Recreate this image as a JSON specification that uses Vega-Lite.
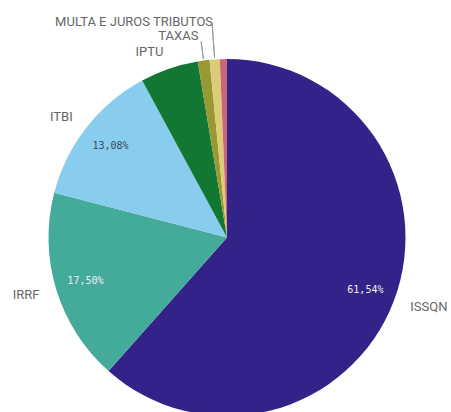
{
  "$schema": "https://vega.github.io/schema/vega-lite/v6.json",
  "width": 454,
  "height": 475,
  "autosize": {"type": "none"},
  "padding": 0,
  "background": "white",
  "config": {"view": {"stroke": null}},
  "data": {
    "values": [
      {"idx": 1, "cat": "ISSQN", "value": 61.54, "pct": "61,54%"},
      {"idx": 2, "cat": "IRRF", "value": 17.50, "pct": "17,50%"},
      {"idx": 3, "cat": "ITBI", "value": 13.08, "pct": "13,08%"},
      {"idx": 4, "cat": "IPTU", "value": 5.26, "pct": "5,26%"},
      {"idx": 5, "cat": "TAXAS", "value": 1.06, "pct": "1,06%"},
      {"idx": 6, "cat": "MULTA E JUROS TRIBUTOS", "value": 0.92, "pct": "0,92%"},
      {"idx": 7, "cat": "OUTROS", "value": 0.64, "pct": "0,64%"}
    ]
  },
  "layer": [
    {
      "mark": {"type": "arc", "radius": 178.5},
      "encoding": {
        "theta": {"field": "value", "type": "quantitative", "stack": true},
        "order": {"field": "idx", "type": "quantitative", "sort": "ascending"},
        "color": {
          "field": "cat",
          "type": "nominal",
          "scale": {
            "domain": ["ISSQN", "IRRF", "ITBI", "IPTU", "TAXAS", "MULTA E JUROS TRIBUTOS", "OUTROS"],
            "range": ["#332288", "#44AA99", "#88CCEE", "#117733", "#999933", "#DDCC77", "#CC6677"]
          },
          "legend": null
        }
      }
    },
    {
      "mark": {"type": "text", "radius": 148, "font": "DejaVu Sans Mono", "fontSize": 10},
      "encoding": {
        "theta": {"field": "value", "type": "quantitative", "stack": true},
        "order": {"field": "idx", "type": "quantitative", "sort": "ascending"},
        "text": {"field": "pct"},
        "opacity": {"condition": {"test": "datum.idx <= 3", "value": 1}, "value": 0},
        "color": {"condition": {"test": "datum.cat === 'ITBI'", "value": "#3b4a5c"}, "value": "#f0f0f5"}
      }
    },
    {
      "mark": {"type": "text", "radius": 196, "align": "left", "font": "Roboto", "fontSize": 13, "color": "#666666"},
      "encoding": {
        "theta": {"field": "value", "type": "quantitative", "stack": true},
        "order": {"field": "idx", "type": "quantitative", "sort": "ascending"},
        "text": {"field": "cat"},
        "opacity": {"condition": {"test": "datum.cat === 'ISSQN'", "value": 1}, "value": 0}
      }
    },
    {
      "mark": {"type": "text", "radius": 196, "align": "right", "font": "Roboto", "fontSize": 13, "color": "#666666"},
      "encoding": {
        "theta": {"field": "value", "type": "quantitative", "stack": true},
        "order": {"field": "idx", "type": "quantitative", "sort": "ascending"},
        "text": {"field": "cat"},
        "opacity": {"condition": {"test": "datum.idx >= 2 && datum.idx <= 4", "value": 1}, "value": 0}
      }
    },
    {
      "mark": {"type": "text", "radius": 203, "dx": -2, "align": "right", "font": "Roboto", "fontSize": 13, "color": "#666666"},
      "encoding": {
        "theta": {"field": "value", "type": "quantitative", "stack": true},
        "order": {"field": "idx", "type": "quantitative", "sort": "ascending"},
        "text": {"field": "cat"},
        "opacity": {"condition": {"test": "datum.cat === 'TAXAS'", "value": 1}, "value": 0}
      }
    },
    {
      "mark": {"type": "text", "radius": 216.5, "dx": 1, "align": "right", "font": "Roboto", "fontSize": 13, "color": "#666666"},
      "encoding": {
        "theta": {"field": "value", "type": "quantitative", "stack": true},
        "order": {"field": "idx", "type": "quantitative", "sort": "ascending"},
        "text": {"field": "cat"},
        "opacity": {"condition": {"test": "datum.cat === 'MULTA E JUROS TRIBUTOS'", "value": 1}, "value": 0}
      }
    },
    {
      "transform": [
        {"window": [{"op": "sum", "field": "value", "as": "cum"}], "sort": [{"field": "idx"}], "frame": [null, 0]},
        {"calculate": "datum.cum - datum.value / 2", "as": "mid"},
        {"filter": "datum.cat === 'TAXAS'"}
      ],
      "mark": {"type": "arc", "radius": 197.5, "radius2": 180, "stroke": "#9a9a9a", "strokeWidth": 1, "fillOpacity": 0},
      "encoding": {
        "theta": {"field": "mid", "type": "quantitative", "stack": false},
        "theta2": {"field": "mid"}
      }
    },
    {
      "transform": [
        {"window": [{"op": "sum", "field": "value", "as": "cum"}], "sort": [{"field": "idx"}], "frame": [null, 0]},
        {"calculate": "datum.cum - datum.value / 2", "as": "mid"},
        {"filter": "datum.cat === 'MULTA E JUROS TRIBUTOS'"}
      ],
      "mark": {"type": "arc", "radius": 215.5, "radius2": 180, "stroke": "#9a9a9a", "strokeWidth": 1, "fillOpacity": 0},
      "encoding": {
        "theta": {"field": "mid", "type": "quantitative", "stack": false},
        "theta2": {"field": "mid"}
      }
    }
  ]
}
